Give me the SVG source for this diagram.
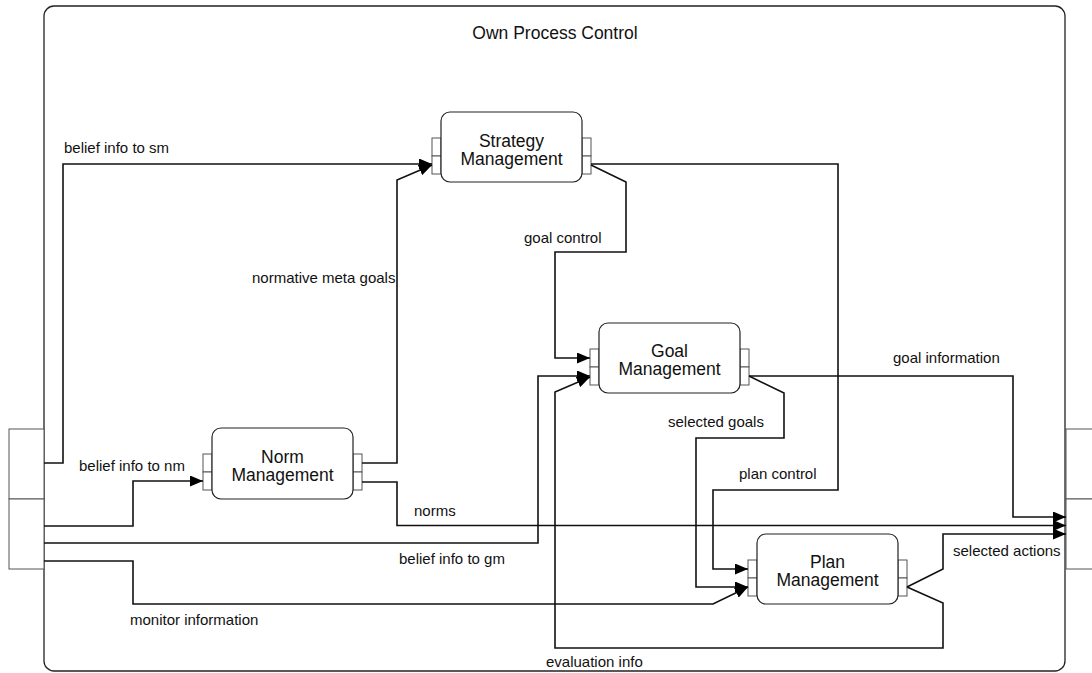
<svg xmlns="http://www.w3.org/2000/svg" width="1092" height="673" viewBox="0 0 1092 673">
<defs>
<style>
.frame{fill:#fff;stroke:#222;stroke-width:1.3}
.node{fill:#fff;stroke:#222;stroke-width:1.2}
.port{fill:#fff;stroke:#555;stroke-width:1}
.edge{fill:none;stroke:#111;stroke-width:1.6;stroke-linejoin:miter}
.nt{font-family:"Liberation Sans",Arial,sans-serif;font-size:17.5px;fill:#111;text-anchor:middle}
.lbl{font-family:"Liberation Sans",Arial,sans-serif;font-size:15px;fill:#111}
.title{font-family:"Liberation Sans",Arial,sans-serif;font-size:17.5px;fill:#111;text-anchor:middle}
</style>
<marker id="arr" viewBox="0 0 13 11" refX="13" refY="5.5" markerWidth="13" markerHeight="11" markerUnits="userSpaceOnUse" orient="auto">
<path d="M0,0 L13,5.5 L0,11 Z" fill="#000"/>
</marker>
</defs>
<rect width="1092" height="673" fill="#fff"/>
<g id="container">
<rect class="frame" x="44" y="6" width="1021" height="665" rx="10"/>
<text class="title" x="555" y="39">Own Process Control</text>
</g>
<g id="left-ports">
<rect class="port" x="9" y="429" width="35" height="70"/>
<rect class="port" x="9" y="499" width="35" height="70"/>
</g>
<g id="right-ports">
<rect class="port" x="1066" y="429" width="40" height="70"/>
<rect class="port" x="1066" y="499" width="40" height="70"/>
</g>
<g id="strategy-management">
<rect class="port" x="432" y="138" width="9" height="18"/>
<rect class="port" x="432" y="156" width="9" height="18"/>
<rect class="port" x="582" y="138" width="9" height="18"/>
<rect class="port" x="582" y="156" width="9" height="18"/>
<rect class="node" x="441" y="112" width="141" height="70" rx="9"/>
<text class="nt" x="511.5" y="147">Strategy</text>
<text class="nt" x="511.5" y="165">Management</text>
</g>
<g id="norm-management">
<rect class="port" x="203" y="454" width="9" height="18"/>
<rect class="port" x="203" y="472" width="9" height="18"/>
<rect class="port" x="353" y="454" width="9" height="18"/>
<rect class="port" x="353" y="472" width="9" height="18"/>
<rect class="node" x="212" y="428" width="141" height="71" rx="9"/>
<text class="nt" x="282.5" y="463">Norm</text>
<text class="nt" x="282.5" y="481">Management</text>
</g>
<g id="goal-management">
<rect class="port" x="590" y="349" width="9" height="18"/>
<rect class="port" x="590" y="367" width="9" height="18"/>
<rect class="port" x="740" y="349" width="9" height="18"/>
<rect class="port" x="740" y="367" width="9" height="18"/>
<rect class="node" x="599" y="323" width="141" height="70" rx="9"/>
<text class="nt" x="669.5" y="357">Goal</text>
<text class="nt" x="669.5" y="375">Management</text>
</g>
<g id="plan-management">
<rect class="port" x="748" y="560" width="9" height="18"/>
<rect class="port" x="748" y="578" width="9" height="18"/>
<rect class="port" x="898" y="560" width="9" height="18"/>
<rect class="port" x="898" y="578" width="9" height="18"/>
<rect class="node" x="757" y="534" width="141" height="70" rx="9"/>
<text class="nt" x="827.5" y="568">Plan</text>
<text class="nt" x="827.5" y="586">Management</text>
</g>
<g id="connectors">
<path class="edge" d="M44,463 H63 V164 H432" marker-end="url(#arr)"/>
<path class="edge" d="M362,463 H397 V180 L432,165" marker-end="url(#arr)"/>
<path class="edge" d="M44,526 H133 V481 H203" marker-end="url(#arr)"/>
<path class="edge" d="M362,482 H397 V525.5 H1066" marker-end="url(#arr)"/>
<path class="edge" d="M44,543 H538 V376 H590" marker-end="url(#arr)"/>
<path class="edge" d="M44,561 H133 V604 H713 L748,587" marker-end="url(#arr)"/>
<path class="edge" d="M591,165 L626,182 V252 H555 V358 H590" marker-end="url(#arr)"/>
<path class="edge" d="M591,164 H838 V490 H713 V569 H748" marker-end="url(#arr)"/>
<path class="edge" d="M749,376 H1013 V517 H1066" marker-end="url(#arr)"/>
<path class="edge" d="M749,376 L784,393 V438 H696 V587 H748" marker-end="url(#arr)"/>
<path class="edge" d="M907,587 L943,569 V534 H1066" marker-end="url(#arr)"/>
<path class="edge" d="M907,587 L943,603 V648 H555 V392 L590,377" marker-end="url(#arr)"/>
</g>
<g id="labels">
<text class="lbl" x="64" y="153">belief info to sm</text>
<text class="lbl" x="252" y="283">normative meta goals</text>
<text class="lbl" x="524" y="243">goal control</text>
<text class="lbl" x="79" y="471">belief info to nm</text>
<text class="lbl" x="414" y="516">norms</text>
<text class="lbl" x="399" y="564">belief info to gm</text>
<text class="lbl" x="130" y="625">monitor information</text>
<text class="lbl" x="546" y="667">evaluation info</text>
<text class="lbl" x="893" y="363">goal information</text>
<text class="lbl" x="668" y="427">selected goals</text>
<text class="lbl" x="739" y="479">plan control</text>
<text class="lbl" x="953" y="556">selected actions</text>
</g>
</svg>
